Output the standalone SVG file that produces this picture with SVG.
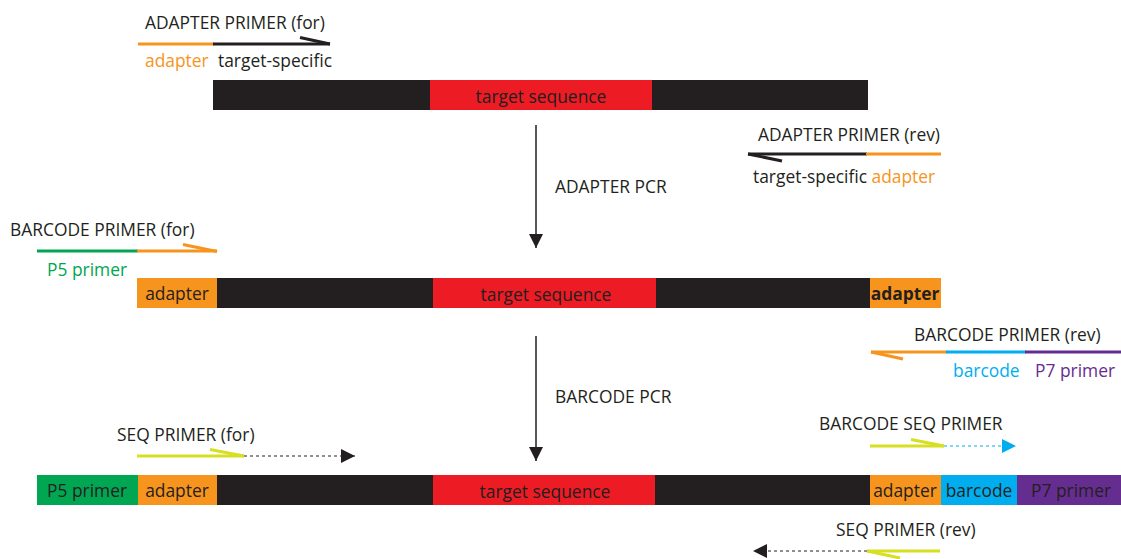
<svg xmlns="http://www.w3.org/2000/svg" width="1121" height="559" viewBox="0 0 1121 559">
<style>
text{font-family:"Open Sans","Liberation Sans",sans-serif;font-size:17.4px;fill:#231F20}
.or{fill:#F7941D}.gr{fill:#00A651}.bl{fill:#00AEEF}.pu{fill:#662D91}
.mid{text-anchor:middle}
.ln{stroke-width:3;fill:none}
.dash{stroke-width:1.2;stroke-dasharray:3 3;fill:none}
</style>
<defs>
<marker id="ah" viewBox="0 0 10 10" refX="10" refY="5" markerWidth="14" markerHeight="14" markerUnits="userSpaceOnUse" orient="auto"><path d="M0,0L10,5L0,10z" fill="#231F20"/></marker>
<marker id="ahb" viewBox="0 0 10 10" refX="10" refY="5" markerWidth="14" markerHeight="14" markerUnits="userSpaceOnUse" orient="auto"><path d="M0,0L10,5L0,10z" fill="#00AEEF"/></marker>
</defs>

<g id="template">
<rect x="213" y="80" width="655" height="30" fill="#231F20"/>
<rect x="430" y="80" width="222" height="30" fill="#ED1C24"/>
<text x="541" y="103" class="mid">target sequence</text>
</g>

<g id="adapter-primer-for">
<text x="145" y="29">ADAPTER PRIMER (for)</text>
<line x1="138" y1="44" x2="214" y2="44" stroke="#F7941D" class="ln"/>
<line x1="213" y1="44" x2="330" y2="44" stroke="#231F20" class="ln"/>
<line x1="300" y1="37.5" x2="330" y2="44" stroke="#231F20" class="ln"/>
<text x="145" y="67" class="or">adapter</text>
<text x="218" y="67">target-specific</text>
</g>

<g id="adapter-primer-rev">
<text x="758" y="141">ADAPTER PRIMER (rev)</text>
<line x1="748" y1="154" x2="867" y2="154" stroke="#231F20" class="ln"/>
<line x1="866" y1="154" x2="941" y2="154" stroke="#F7941D" class="ln"/>
<line x1="748" y1="154" x2="782" y2="161" stroke="#231F20" class="ln"/>
<text x="753" y="183">target-specific <tspan class="or">adapter</tspan></text>
</g>

<g id="amplicon1">
<rect x="137" y="278" width="80" height="30" fill="#F7941D"/>
<rect x="217" y="278" width="653" height="30" fill="#231F20"/>
<rect x="433" y="278" width="223" height="30" fill="#ED1C24"/>
<rect x="870" y="278" width="71" height="30" fill="#F7941D"/>
<text x="177" y="300" class="mid">adapter</text>
<text x="546" y="301" class="mid">target sequence</text>
<text x="905" y="300" class="mid" font-weight="bold" font-size="16.5">adapter</text>
</g>

<g id="barcode-primer-for">
<text x="10" y="236">BARCODE PRIMER (for)</text>
<line x1="37" y1="251" x2="138" y2="251" stroke="#00A651" class="ln"/>
<line x1="137" y1="251" x2="217" y2="251" stroke="#F7941D" class="ln"/>
<line x1="183" y1="244.5" x2="217" y2="251.5" stroke="#F7941D" class="ln"/>
<text x="47" y="276" class="gr">P5 primer</text>
</g>

<g id="barcode-primer-rev">
<text x="914" y="341">BARCODE PRIMER (rev)</text>
<line x1="871" y1="352" x2="947" y2="352" stroke="#F7941D" class="ln"/>
<line x1="946" y1="352" x2="1026" y2="352" stroke="#00AEEF" class="ln"/>
<line x1="1025" y1="352" x2="1121" y2="352" stroke="#662D91" class="ln"/>
<line x1="871" y1="352" x2="903" y2="359" stroke="#F7941D" class="ln"/>
<text x="953" y="377" class="bl">barcode</text>
<text x="1035" y="377" class="pu">P7 primer</text>
</g>

<g id="final-amplicon">
<rect x="37" y="475" width="101" height="30" fill="#00A651"/>
<rect x="138" y="475" width="79" height="30" fill="#F7941D"/>
<rect x="217" y="475" width="653" height="30" fill="#231F20"/>
<rect x="433" y="475" width="222" height="30" fill="#ED1C24"/>
<rect x="870" y="475" width="71" height="30" fill="#F7941D"/>
<rect x="941" y="475" width="76" height="30" fill="#00AEEF"/>
<rect x="1017" y="475" width="104" height="30" fill="#662D91"/>
<text x="87" y="497" class="mid">P5 primer</text>
<text x="177" y="497" class="mid">adapter</text>
<text x="545" y="498" class="mid">target sequence</text>
<text x="905" y="497" class="mid">adapter</text>
<text x="979" y="497" class="mid">barcode</text>
<text x="1071" y="497" class="mid">P7 primer</text>
</g>

<g id="seq-primer-for">
<text x="117" y="441">SEQ PRIMER (for)</text>
<line x1="137" y1="456" x2="244" y2="456" stroke="#D7DF23" class="ln"/>
<line x1="210" y1="449.5" x2="244" y2="456" stroke="#D7DF23" class="ln"/>
</g>

<g id="barcode-seq-primer">
<text x="819" y="430">BARCODE SEQ PRIMER</text>
<line x1="870" y1="446" x2="944" y2="446" stroke="#D7DF23" class="ln"/>
<line x1="911" y1="439.5" x2="944" y2="446" stroke="#D7DF23" class="ln"/>
</g>

<g id="seq-primer-rev">
<text x="836" y="536">SEQ PRIMER (rev)</text>
<line x1="867" y1="551" x2="940" y2="551" stroke="#D7DF23" class="ln"/>
<line x1="867" y1="551" x2="900" y2="558" stroke="#D7DF23" class="ln"/>
</g>

<g id="connectors">
<line x1="536" y1="125" x2="536" y2="248" stroke="#231F20" stroke-width="1.5" marker-end="url(#ah)"/>
<text x="555" y="193">ADAPTER PCR</text>
<line x1="536" y1="336" x2="536" y2="461" stroke="#231F20" stroke-width="1.5" marker-end="url(#ah)"/>
<text x="555" y="403">BARCODE PCR</text>
<line x1="244" y1="456" x2="355" y2="456" stroke="#231F20" class="dash" marker-end="url(#ah)"/>
<line x1="944" y1="446" x2="1016" y2="446" stroke="#00AEEF" class="dash" marker-end="url(#ahb)"/>
<line x1="867" y1="551" x2="753" y2="551" stroke="#231F20" class="dash" marker-end="url(#ah)"/>
</g>
</svg>
